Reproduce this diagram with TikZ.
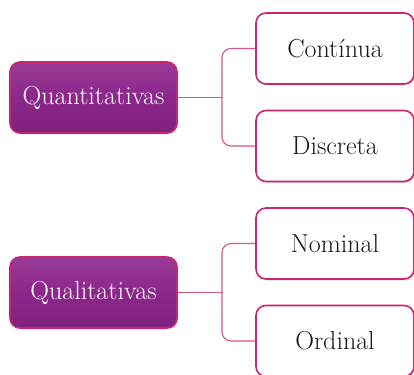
\documentclass[tikz,border=0pt]{standalone}
\usepackage{tikz}
\usetikzlibrary{
    positioning,
    shadows
}
\definecolor{boxpurple}{RGB}{141,38,139}
\definecolor{boxedge}{RGB}{200,38,112}
\definecolor{linkpink}{RGB}{212,84,144}
\tikzset{
    every picture/.style = {
        x = 1pt,
        y = -1pt
    },
    kind/.style = {
        rounded corners = 10pt,
        draw = boxedge,
        line width = 1.6pt,
        top color = boxpurple!90!white,
        bottom color = boxpurple!90!black,
        middle color = boxpurple,
        text = white,
        minimum width = 167pt,
        minimum height = 71pt,
        font = \fontsize{26}{30}\selectfont,
        drop shadow = {opacity = 0.2, shadow xshift = 1pt, shadow yshift = -1.5pt}
    },
    sort/.style = {
        rounded corners = 10pt,
        draw = boxedge,
        line width = 1.6pt,
        fill = white,
        text = black!90,
        minimum width = 158pt,
        minimum height = 71pt,
        font = \fontsize{26}{30}\selectfont,
        drop shadow = {opacity = 0.25, shadow xshift = 1.5pt, shadow yshift = -1.5pt}
    },
    link/.style = {
        draw = linkpink,
        line width = 1.1pt,
        rounded corners = 9pt
    }
}

\begin{document}
\begin{tikzpicture}

    \useasboundingbox (0, 0) rectangle (414, 374);

    % quantitativas
    \node[kind] (quant) at (93.5, 97.5) {Quantitativas};
    \node[sort] (cont) at (335, 48.5) {Contínua};
    \node[sort] (disc) at (335, 146) {Discreta};
    \coordinate (qj) at (222, 97.5);
    \draw[link] (quant.east) -- (qj);
    \draw[link] (cont.west) -| (qj) |- (disc.west);

    % qualitativas
    \node[kind] (qual) at (93.5, 292.5) {Qualitativas};
    \node[sort] (nomi) at (335, 243.5) {Nominal};
    \node[sort] (ordi) at (335, 341) {Ordinal};
    \coordinate (lj) at (222, 292.5);
    \draw[link] (qual.east) -- (lj);
    \draw[link] (nomi.west) -| (lj) |- (ordi.west);

\end{tikzpicture}
\end{document}
